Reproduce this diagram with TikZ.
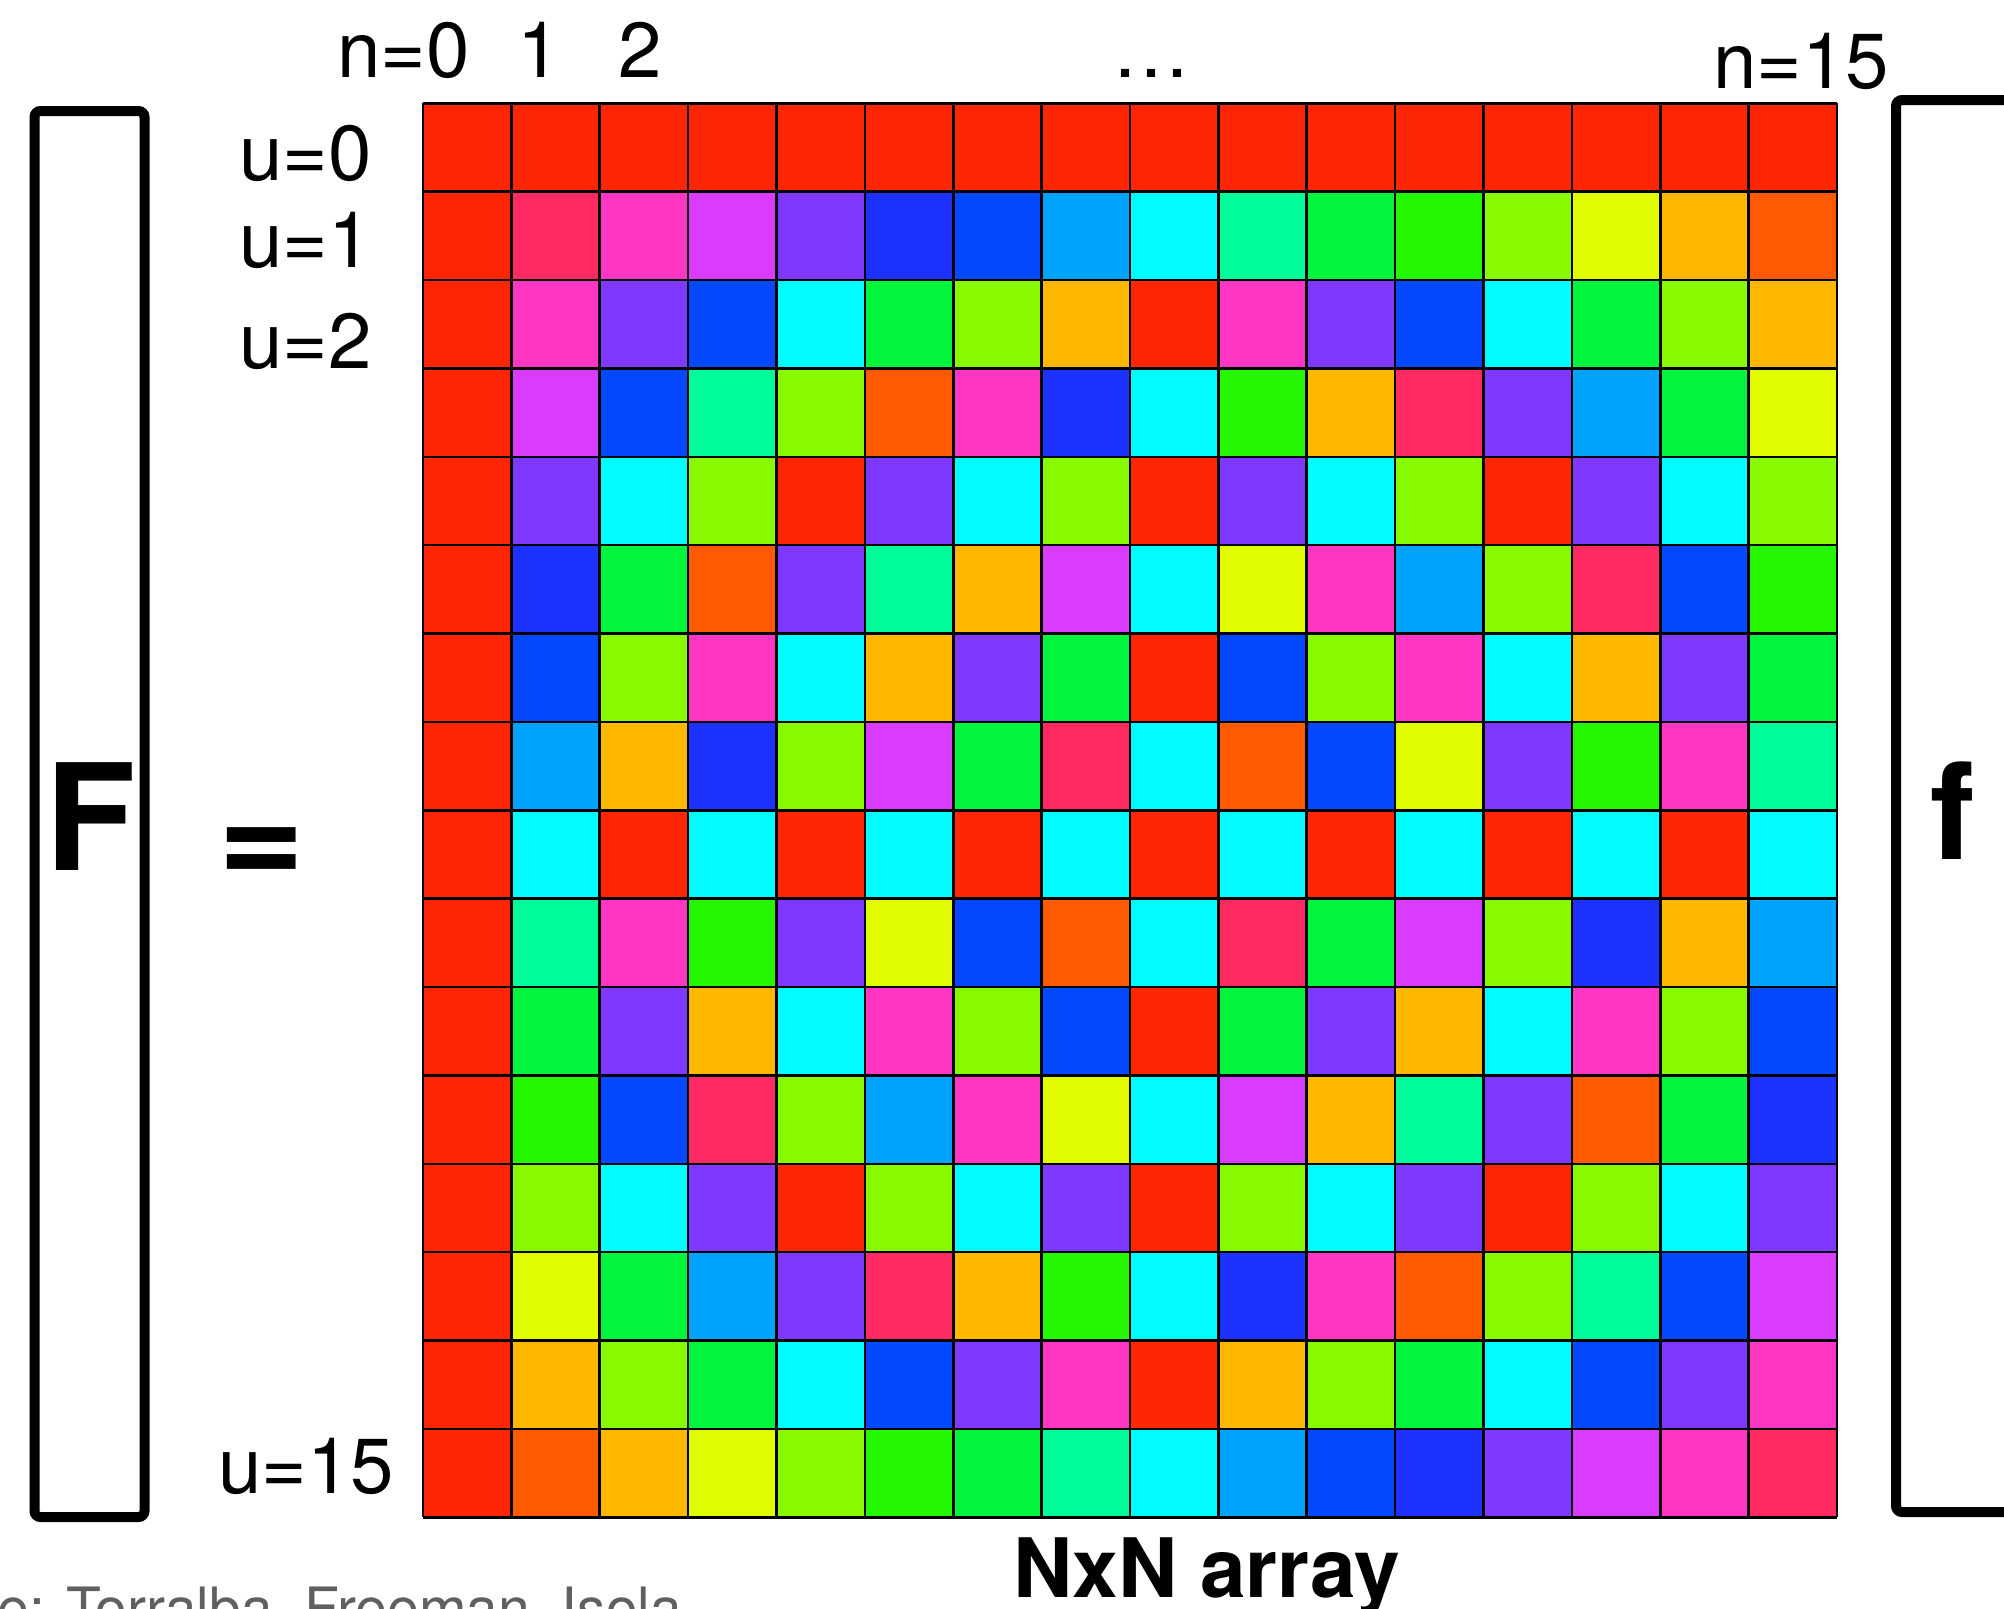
\documentclass[tikz,border=0pt]{standalone}
\usepackage{fontspec}
\setmainfont{TeX Gyre Heros}
\definecolor{c0}{HTML}{FF2606}
\definecolor{c1}{HTML}{FF2A62}
\definecolor{c2}{HTML}{FF36C4}
\definecolor{c3}{HTML}{DA3CFF}
\definecolor{c4}{HTML}{7E38FF}
\definecolor{c5}{HTML}{1E32FF}
\definecolor{c6}{HTML}{0448FF}
\definecolor{c7}{HTML}{00A4FF}
\definecolor{c8}{HTML}{00FCFF}
\definecolor{c9}{HTML}{00FC98}
\definecolor{c10}{HTML}{00F53C}
\definecolor{c11}{HTML}{24F700}
\definecolor{c12}{HTML}{88FA00}
\definecolor{c13}{HTML}{E2FC00}
\definecolor{c14}{HTML}{FFB800}
\definecolor{c15}{HTML}{FF5A00}
\definecolor{credit}{HTML}{606060}
\tikzset{
  lbl/.style={inner sep=0pt, font=\fontsize{39}{44}\selectfont},
  big/.style={inner sep=0pt, font=\fontsize{74}{80}\selectfont\bfseries},
  bracket/.style={line width=5pt, rounded corners=3pt},
  gridline/.style={line width=1.3pt, black},
}
\begin{document}
\begin{tikzpicture}[x=0.5pt,y=-0.5pt]
\useasboundingbox (0,0) rectangle (2004,1608);
\fill[white] (0,0) rectangle (2004,1608);
% cells
\foreach \u in {0,...,15} {
  \foreach \n in {0,...,15} {
    \pgfmathtruncatemacro\k{mod(\u*\n,16)}
    \fill[fill=c\k] (423+88.375*\n,103.3+88.375*\u) rectangle ++(88.375,88.375);
  }
}
% grid lines
\foreach \i in {0,...,16} {
  \draw[gridline] (423+88.375*\i,103.3) -- (423+88.375*\i,1517.3);
  \draw[gridline] (423,103.3+88.375*\i) -- (1837,103.3+88.375*\i);
}
% brackets
\draw[bracket] (34.5,111) rectangle (144.5,1517);
\draw[bracket] (2060,100) -- (1896,100) -- (1896,1512) -- (2060,1512);
% labels
\node[lbl, anchor=base west] (n0) at (337,77) {n=0};
\node[lbl, anchor=base] (n1) at (539,77) {1};
\node[lbl, anchor=base] (n2) at (640,77) {2};
\node[lbl, anchor=base] (dots) at (1151.5,77) {…};
\node[lbl, anchor=base west] (n15) at (1713,88) {n=15};
\node[lbl, anchor=base west] (u0) at (239,180) {u=0};
\node[lbl, anchor=base west] (u1) at (239,267) {u=1};
\node[lbl, anchor=base west] (u2) at (239,368) {u=2};
\node[lbl, anchor=base west] (u15) at (218,1493) {u=15};
\node[big, anchor=base] (F) at (91,870) {F};
\node[big, anchor=base] (eq) at (261.5,885) {=};
\node[inner sep=0pt, font=\fontsize{67}{72}\selectfont\bfseries, anchor=base] (f) at (1953,859) {f};
\node[inner sep=0pt, font=\fontsize{41}{46}\selectfont\bfseries, anchor=base west] (arr) at (1013,1597) {NxN array};
\node[inner sep=0pt, font=\fontsize{28.5}{32}\selectfont, text=credit, anchor=base west] (cred) at (-3,1628) {e: Torralba, Freeman, Isola};
\end{tikzpicture}
\end{document}
